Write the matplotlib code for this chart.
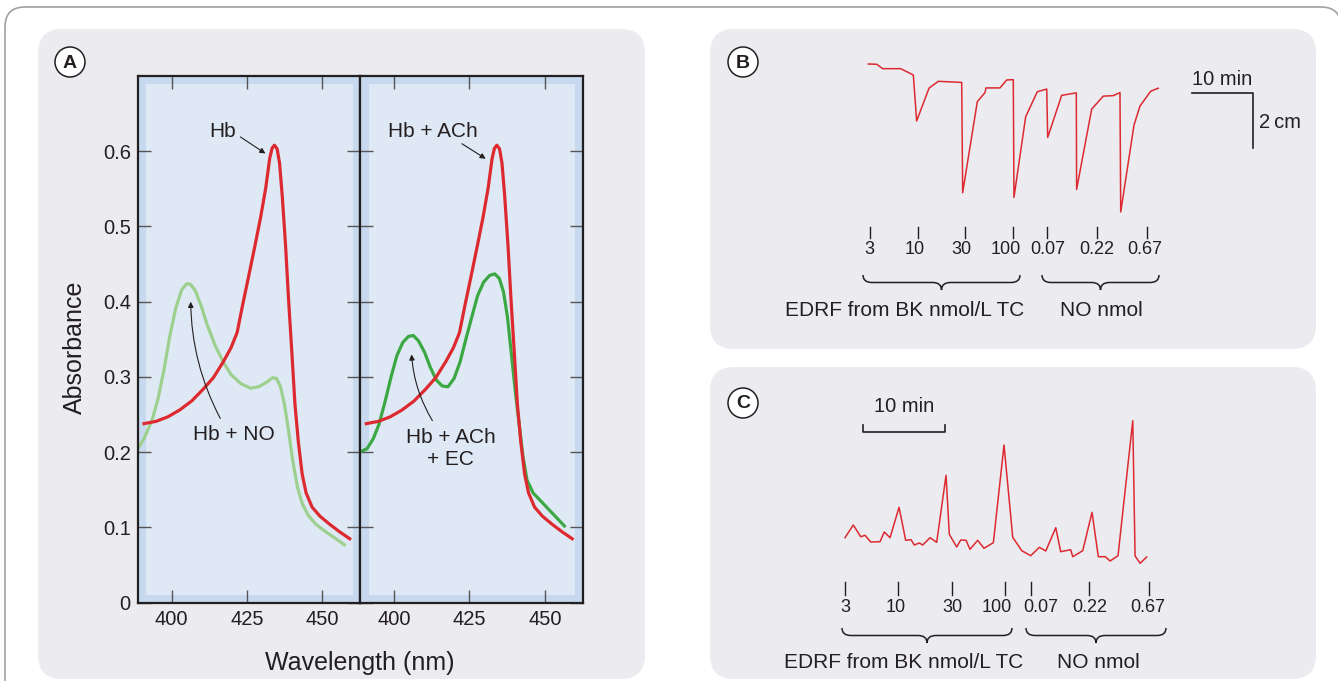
import matplotlib
matplotlib.use('Agg')
import matplotlib.pyplot as plt
import matplotlib.transforms as mtransforms
from matplotlib.patches import FancyBboxPatch, Circle, Rectangle, PathPatch
from matplotlib.path import Path

plt.rcParams['font.family'] = ['Liberation Sans', 'DejaVu Sans']

# ---------------- data ----------------
# A: absorbance spectra (wavelength nm, absorbance)
hb_nm = [390.8, 394.8, 398.7, 402.6, 406.6, 410.5, 413.8, 417.1, 419.7, 421.7,
         423.6, 425.6, 427.6, 429.5, 431.2, 432.5, 433.3, 434.1, 435.0, 435.8,
         436.7, 437.8, 438.8, 439.9, 440.9, 442.0, 443.3, 444.6, 446.6, 449.2,
         452.5, 455.8, 459.1]
hb_abs = [0.238, 0.241, 0.247, 0.256, 0.268, 0.284, 0.299, 0.320, 0.339, 0.359,
          0.397, 0.435, 0.474, 0.512, 0.551, 0.590, 0.604, 0.608, 0.603, 0.584,
          0.540, 0.474, 0.402, 0.331, 0.264, 0.215, 0.171, 0.146, 0.127, 0.115,
          0.104, 0.094, 0.085]

hbno_nm = [388.6, 390.8, 393.4, 395.4, 397.4, 399.3, 401.3, 403.3, 405.0, 406.3,
           407.9, 409.8, 411.8, 414.4, 417.1, 419.7, 423.0, 426.2, 428.9, 431.5,
           433.5, 434.8, 436.1, 437.4, 438.7, 440.0, 441.7, 443.3, 445.3, 447.9,
           451.2, 454.5, 457.3]
hbno_abs = [0.204, 0.218, 0.242, 0.270, 0.309, 0.353, 0.391, 0.416, 0.424, 0.423,
            0.414, 0.394, 0.369, 0.342, 0.320, 0.303, 0.291, 0.285, 0.287, 0.293,
            0.299, 0.298, 0.287, 0.264, 0.231, 0.193, 0.154, 0.132, 0.116, 0.104,
            0.094, 0.085, 0.077]

# Hb + ACh trace lies on top of the Hb trace
hbach_nm = list(hb_nm)
hbach_abs = list(hb_abs)

hbachec_nm = [389.1, 391.1, 393.1, 395.0, 397.0, 399.0, 400.9, 402.9, 404.8, 406.4,
              408.1, 410.1, 412.0, 414.0, 416.0, 417.9, 419.9, 421.9, 423.8, 425.8,
              427.7, 429.7, 431.7, 433.4, 434.9, 436.3, 437.6, 438.9, 440.2, 441.5,
              442.8, 444.1, 446.1, 448.7, 452.0, 456.5]
hbachec_abs = [0.201, 0.205, 0.218, 0.237, 0.267, 0.300, 0.328, 0.346, 0.354, 0.355,
               0.348, 0.333, 0.313, 0.296, 0.288, 0.287, 0.298, 0.320, 0.350, 0.380,
               0.408, 0.426, 0.435, 0.437, 0.431, 0.413, 0.380, 0.331, 0.281, 0.237,
               0.193, 0.163, 0.146, 0.135, 0.121, 0.102]

wl_ticks = [400, 425, 450]
abs_ticks = [0, 0.1, 0.2, 0.3, 0.4, 0.5, 0.6]
abs_tick_labels = ['0', '0.1', '0.2', '0.3', '0.4', '0.5', '0.6']

# B: bioassay tension trace (min, cm)
b_t = [0.05, 1.43, 2.41, 5.36, 7.43, 7.98, 10.0, 11.52, 15.36, 15.52,
       17.92, 19.18, 19.34, 21.64, 22.74, 23.82, 23.93, 25.85, 27.75, 29.30,
       29.46, 31.75, 34.15, 34.20, 36.67, 38.57, 40.21, 41.31, 41.43, 43.61,
       44.59, 46.34, 47.59]
b_tension = [0.00, -0.01, -0.17, -0.17, -0.40, -2.07, -0.88, -0.63, -0.67, -4.68,
             -1.37, -1.04, -0.87, -0.87, -0.58, -0.57, -4.85, -1.92, -1.01, -0.91,
             -2.67, -1.14, -1.05, -4.56, -1.64, -1.17, -1.15, -1.04, -5.38, -2.22,
             -1.53, -0.99, -0.88]
b_dose_t = [0.33, 8.15, 15.90, 23.82, 29.39, 37.59, 45.69]

# C: second trace (min, arbitrary units)
c_t = [0.0, 1.01, 1.91, 2.44, 3.13, 4.27, 4.79, 5.49, 6.59, 7.40,
       8.05, 8.45, 9.06, 9.48, 10.37, 11.18, 12.32, 12.72, 13.62, 14.11,
       14.76, 15.24, 16.18, 16.95, 18.09, 19.39, 20.45, 21.55, 22.65, 23.70,
       24.48, 25.70, 26.30, 27.52, 27.77, 28.99, 30.12, 30.89, 31.74, 32.32,
       33.29, 35.09, 35.37, 35.98, 36.79]
c_signal = [2.73, 4.00, 2.83, 2.97, 2.30, 2.33, 3.30, 2.73, 5.77, 2.47,
            2.53, 2.00, 2.20, 2.00, 2.73, 2.27, 8.97, 3.07, 1.80, 2.50,
            2.47, 1.57, 2.47, 1.67, 2.23, 12.00, 2.77, 1.43, 0.93, 1.77,
            1.40, 3.73, 1.33, 1.53, 0.83, 1.43, 5.27, 0.83, 0.83, 0.40,
            0.93, 14.43, 0.90, 0.17, 0.80]
c_dose_t = [0.0, 6.5, 13.1, 19.5, 22.7, 29.8, 37.1]

dose_labels = ['3', '10', '30', '100', '0.07', '0.22', '0.67']
group_labels = ['EDRF from BK nmol/L TC', 'NO nmol']

# label centres in pixels (labels sit a little off their ticks)
b_label_x = [869, 915, 961, 1006, 1048, 1097, 1145]
c_label_x = [845, 896, 952, 997, 1041, 1090, 1148]

# ---------------- layout ----------------
W, H = 1338, 681
ink = '#231f20'
red = '#dc2a30'

fig = plt.figure(figsize=(W / 100, H / 100), dpi=100)
fig.patch.set_facecolor('white')

# background axes in pixel units
bg = fig.add_axes([0, 0, 1, 1])
bg.set_xlim(0, W)
bg.set_ylim(H, 0)
bg.axis('off')


def fig_rect(x0, y0, x1, y1):
    return [x0 / W, 1 - y1 / H, (x1 - x0) / W, (y1 - y0) / H]


def brace(x0, x1, y0, depth):
    r = 9
    ym = y0 + depth * 0.5
    yt = y0 + depth
    xm = (x0 + x1) / 2
    verts = [(x0, y0), (x0, ym), (x0 + r, ym), (xm - r, ym), (xm, ym), (xm, yt),
             (xm, ym), (xm + r, ym), (x1 - r, ym), (x1, ym), (x1, y0)]
    codes = [Path.MOVETO, Path.CURVE3, Path.CURVE3, Path.LINETO, Path.CURVE3, Path.CURVE3,
             Path.CURVE3, Path.CURVE3, Path.LINETO, Path.CURVE3, Path.CURVE3]
    bg.add_patch(PathPatch(Path(verts, codes), fc='none', ec=ink, lw=1.1))


# outer frame
bg.add_patch(FancyBboxPatch((5, 7), 1336, 720, boxstyle='round,pad=0,rounding_size=20',
                            fc='white', ec='#a0a0a0', lw=1.2))
# panels
for x0, y0, x1, y1 in [(38, 29, 645, 679), (710, 29, 1316, 349), (710, 367, 1316, 679)]:
    bg.add_patch(FancyBboxPatch((x0, y0), x1 - x0, y1 - y0,
                                boxstyle='round,pad=0,rounding_size=24',
                                fc='#ebebf0', ec='none'))

for letter, cx, cy in [('A', 70, 62), ('B', 743, 62), ('C', 743, 403)]:
    bg.add_patch(Circle((cx, cy), 15, fc='white', ec=ink, lw=1.1))
    bg.text(cx, cy + 1, letter, ha='center', va='center', fontsize=14, fontweight='bold', color=ink)

# ---------------- panel A ----------------
axL = fig.add_axes(fig_rect(137.7, 76, 360, 602.7))
axR = fig.add_axes(fig_rect(360, 76, 582.5, 602.7))

for ax in (axL, axR):
    ax.set_facecolor('#c6d9ee')
    ax.add_patch(Rectangle((0.039, 0.014), 0.929, 0.971, transform=ax.transAxes,
                           fc='#dfe9f5', ec='none', zorder=0))
    ax.set_xlim(388.7, 462.5)
    ax.set_ylim(0, 0.70)
    ax.set_xticks(wl_ticks)
    ax.set_yticks(abs_ticks)
    ax.set_yticklabels(abs_tick_labels)
    ax.tick_params(direction='in', length=9.5, width=1.0, color='#555555',
                   top=True, right=True, labelsize=14.5, pad=5, labelcolor=ink)
    for s in ax.spines.values():
        s.set_linewidth(1.6)
        s.set_color(ink)
axR.tick_params(labelleft=False)

axL.plot(hbno_nm, hbno_abs, color='#9dd08f', lw=2.3)
axL.plot(hb_nm, hb_abs, color=red, lw=2.3)
axR.plot(hbachec_nm, hbachec_abs, color='#3ca844', lw=2.3)
axR.plot(hbach_nm, hbach_abs, color=red, lw=2.3)

arrow = dict(arrowstyle='-|>', color=ink, lw=0.8, mutation_scale=8, shrinkA=0, shrinkB=0)

axL.text(417, 0.626, 'Hb', ha='center', va='center', fontsize=15, color=ink)
axL.annotate('', xy=(431.1, 0.597), xytext=(422.8, 0.619), arrowprops=arrow)
axL.text(420.6, 0.223, 'Hb + NO', ha='center', va='center', fontsize=15, color=ink)
axL.annotate('', xy=(406.3, 0.40), xytext=(416.1, 0.245),
             arrowprops=dict(arrow, connectionstyle='arc3,rad=-0.12'))

axR.text(413, 0.626, 'Hb + ACh', ha='center', va='center', fontsize=15, color=ink)
axR.annotate('', xy=(430.4, 0.59), xytext=(422.5, 0.61), arrowprops=arrow)
axR.text(418.8, 0.205, 'Hb + ACh\n+ EC', ha='center', va='center', fontsize=15,
         color=ink, linespacing=1.25)
axR.annotate('', xy=(405.8, 0.33), xytext=(412.7, 0.242),
             arrowprops=dict(arrow, connectionstyle='arc3,rad=-0.12'))

bg.text(75, 347, 'Absorbance', rotation=90, ha='center', va='center', fontsize=18, color=ink)
bg.text(360, 663, 'Wavelength (nm)', ha='center', va='center', fontsize=18, color=ink)

# ---------------- panel B ----------------
axB = fig.add_axes(fig_rect(860, 55, 1170, 230))
axB.set_xlim(-1.31, 49.51)
axB.set_ylim(-6.036, 0.327)
axB.axis('off')
axB.patch.set_alpha(0)
axB.plot(b_t, b_tension, color=red, lw=1.1)

# scale bar: 10 min x 2 cm
axB.plot([53.1, 63.1, 63.1], [-1.055, -1.055, -3.055], color=ink, lw=1.2, clip_on=False)
axB.text(58.1, -0.58, '10 min', ha='center', va='center', fontsize=14.5, color=ink)
axB.text(64.1, -2.11, '2\u2009cm', ha='left', va='center', fontsize=14.5, color=ink)

trB = mtransforms.blended_transform_factory(axB.transData, bg.transData)
for t in b_dose_t:
    bg.plot([t, t], [226.7, 238.3], color=ink, lw=1.0, transform=trB)
for x, lab in zip(b_label_x, dose_labels):
    bg.text(x, 250, lab, ha='center', va='center', fontsize=13, color=ink)
brace(863, 1020, 275, 15)
brace(1042, 1159, 275, 15)
bg.text(905, 310, group_labels[0], ha='center', va='center', fontsize=15, color=ink)
bg.text(1101, 310, group_labels[1], ha='center', va='center', fontsize=15, color=ink)

# ---------------- panel C ----------------
axC = fig.add_axes(fig_rect(835, 410, 1160, 575))
axC.set_xlim(-1.22, 38.41)
axC.set_ylim(-1.0, 15.5)
axC.axis('off')
axC.patch.set_alpha(0)
axC.plot(c_t, c_signal, color=red, lw=1.1)

axC.plot([2.23, 2.23, 12.23, 12.23], [14.0, 13.27, 13.27, 14.0], color=ink, lw=1.2, clip_on=False)
axC.text(7.23, 15.83, '10 min', ha='center', va='center', fontsize=14.5, color=ink)

trC = mtransforms.blended_transform_factory(axC.transData, bg.transData)
for t in c_dose_t:
    bg.plot([t, t], [582.3, 595], color=ink, lw=1.0, transform=trC)
for x, lab in zip(c_label_x, dose_labels):
    bg.text(x, 607, lab, ha='center', va='center', fontsize=13, color=ink)
brace(842, 1012, 628, 15)
brace(1026, 1166, 628, 15)
bg.text(904, 662, group_labels[0], ha='center', va='center', fontsize=15, color=ink)
bg.text(1098, 662, group_labels[1], ha='center', va='center', fontsize=15, color=ink)

plt.savefig('out.png', dpi=100)
